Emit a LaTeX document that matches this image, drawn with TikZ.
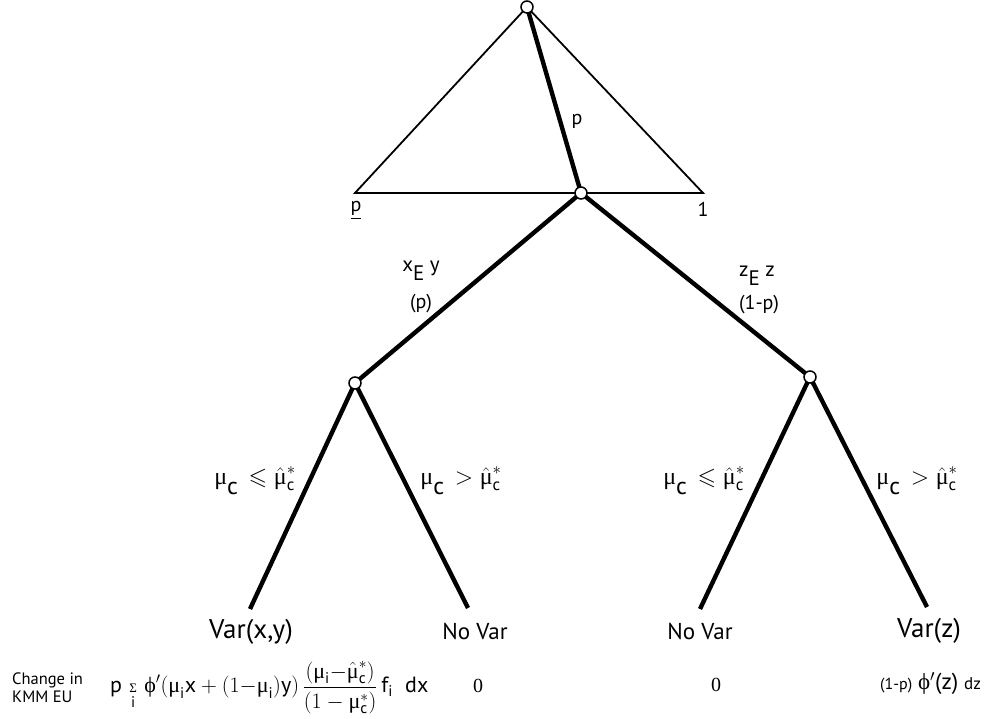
\documentclass[tikz,border=0pt]{standalone}
\usepackage{fix-cm}
\usepackage{amsmath,amssymb}
\usepackage{fontspec}
\setmainfont{PT Sans}
\newfontfamily\gkfont{Liberation Serif}
\usepackage{tikz}
\usetikzlibrary{positioning}

\newcommand{\gmu}{\text{\gkfont μ}}
\newcommand{\lowr}[1]{\raisebox{-0.4em}{#1}}

\begin{document}
\begin{tikzpicture}[x=1pt, y=1pt,
            vertex/.style ={circle, draw, line width=1.5pt, fill=white,
                            inner sep=0pt, minimum size=12pt},
            branch/.style ={line width=4.4pt},
            simplex/.style={line width=1.8pt},
            outcome/.style={anchor=base, inner sep=0pt, font=\fontsize{27}{30}\selectfont},
            novar/.style  ={anchor=base, inner sep=0pt, font=\fontsize{23}{26}\selectfont},
            cond/.style   ={anchor=base, inner sep=0pt, font=\fontsize{24}{28}\selectfont},
            act/.style    ={anchor=base, inner sep=0pt, font=\fontsize{21}{24}\selectfont},
            prob/.style   ={anchor=base, inner sep=0pt, font=\fontsize{20}{24}\selectfont},
            note/.style   ={anchor=base west, inner sep=0pt, font=\fontsize{16.5}{18}\selectfont},
            payoff/.style ={inner sep=0pt, font=\fontsize{22}{24}\selectfont},
            zero/.style   ={anchor=base, inner sep=0pt, font=\gkfont\fontsize{20}{22}\selectfont}
        ]
            \useasboundingbox (0,0) rectangle (992,719);

            % --- Vertices ---
            \coordinate (root)  at (527,712);
            \coordinate (split) at (581,526);
            \coordinate (lo)    at (355,526);
            \coordinate (hi)    at (703,526);
            \coordinate (nodeL) at (355,336);
            \coordinate (nodeR) at (810,342);

            % --- Leaf ends ---
            \coordinate (endA) at (250,110);
            \coordinate (endB) at (468,111);
            \coordinate (endC) at (700,110);
            \coordinate (endD) at (927,112);

            % --- Simplex and branches ---
            \draw[simplex] (lo) -- (root) -- (hi) -- cycle;
            \draw[branch] (root)  -- (split);
            \draw[branch] (split) -- (nodeL);
            \draw[branch] (split) -- (nodeR);
            \draw[branch] (nodeL) -- (endA);
            \draw[branch] (nodeL) -- (endB);
            \draw[branch] (nodeR) -- (endC);
            \draw[branch] (nodeR) -- (endD);

            \node[vertex] (rootdot)  at (root)  {};
            \node[vertex] (splitdot) at (split) {};
            \node[vertex] (Ldot)     at (nodeL) {};
            \node[vertex] (Rdot)     at (nodeR) {};

            % --- Labels on the simplex ---
            \node[prob] (pval) at (577,594) {p};
            \node[prob] (plow) at (356,507) {\underline{p}};
            \node[prob] (pone) at (703,502) {1};

            % --- Acts ---
            \node[act]  (actL)  at (421,447) {x\lowr{E} y};
            \node[prob] (probL) at (421,410) {(p)};
            \node[act]  (actR)  at (757,442) {z\lowr{E} z};
            \node[prob] (probR) at (759,409) {(1-p)};

            % --- Conditions ---
            \node[cond] (condLL) at (255,234) {$\gmu\lowr{\text{c}}\, \leqslant \hat{\gmu}^{*}_{\text{c}}$};
            \node[cond] (condLR) at (461,234) {$\gmu\lowr{\text{c}}\, > \hat{\gmu}^{*}_{\text{c}}$};
            \node[cond] (condRL) at (704,234) {$\gmu\lowr{\text{c}}\, \leqslant \hat{\gmu}^{*}_{\text{c}}$};
            \node[cond] (condRR) at (917,234) {$\gmu\lowr{\text{c}}\, > \hat{\gmu}^{*}_{\text{c}}$};

            % --- Outcomes ---
            \node[outcome] (varxy) at (251,80) {Var(x,y)};
            \node[novar]   (novA)  at (475,79) {No Var};
            \node[novar]   (novB)  at (700,79) {No Var};
            \node[outcome] (varz)  at (929,81) {Var(z)};

            % --- Change in KMM EU ---
            \node[note] (chg) at (12,34) {Change in};
            \node[note] (kmm) at (12,16) {KMM EU};
            \node[payoff, anchor=base west] (dA) at (110,26)
                {$\text{p}\,\mathop{\text{\gkfont\fontsize{13}{14}\selectfont Σ}}\limits_{\text{i}}\,\text{\gkfont ϕ}'(\gmu_{\text{i}}\text{x}+(1{-}\gmu_{\text{i}})\text{y})\,\dfrac{(\gmu_{\text{i}}{-}\hat{\gmu}^{*}_{\text{c}})}{(1-\gmu^{*}_{\text{c}})}\,\text{f}_{\text{i}}\;\;\text{dx}$};
            \node[zero] (dB) at (478,26) {0};
            \node[zero] (dC) at (716,27) {0};
            \node[payoff, anchor=base west] (dD) at (880,29)
                {{\fontsize{16}{18}\selectfont (1-p)} {\fontsize{23}{24}\selectfont{\gkfont ϕ}$'$(z)} {\fontsize{17}{18}\selectfont dz}};
        \end{tikzpicture}
\end{document}
